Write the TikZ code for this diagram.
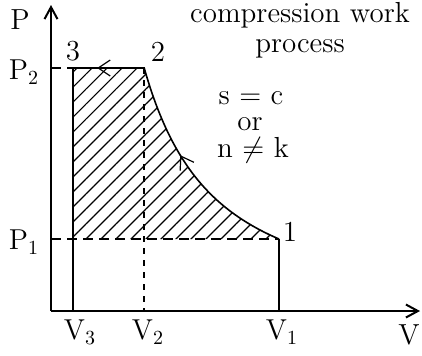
\documentclass[tikz,border=0pt]{standalone}
\usepackage{amsmath,amssymb}
\usetikzlibrary{arrows.meta,patterns.meta,decorations.markings}
\tikzset{
  axis/.style={line width=1pt,-{Straight Barb[length=6pt,width=6.5pt]}},
  line/.style={line width=0.8pt},
  dashln/.style={line width=0.8pt,dash pattern=on 5pt off 3pt},
  vdash/.style={line width=0.8pt,dash pattern=on 3pt off 3pt},
  hatch/.style={pattern={Lines[angle=45,distance=5.3pt,line width=0.6pt]}},
  lbl/.style={font=\fontsize{14.5}{15}\selectfont,inner sep=0pt},
  curv/.style={domain=144:279,samples=60},
  fwdarr/.style={postaction={decorate},decoration={markings,
    mark=at position #1 with {\arrow{Straight Barb[length=6pt,width=8pt,line width=0.6pt]}}}},
  revarr/.style={postaction={decorate},decoration={markings,
    mark=at position #1 with {\arrowreversed{Straight Barb[length=6pt,width=8pt,line width=0.6pt]}}}},
}

\begin{document}
\begin{tikzpicture}[x=0.5pt,y=-0.5pt]
  \useasboundingbox (0,0) rectangle (422,355);
  % key points
  \coordinate (O) at (51,311);
  \coordinate (ytop) at (51,5);
  \coordinate (xend) at (420,311);
  \coordinate (s3) at (73,68);
  \coordinate (s2) at (144,68);
  \coordinate (s1) at (279,239);
  \coordinate (c3) at (73,239);
  \coordinate (v3) at (73,311);
  \coordinate (v2) at (144,311);
  \coordinate (v1) at (279,311);
  \coordinate (pa2) at (51,68);
  \coordinate (pa1) at (51,239);
  % work area
  \fill[hatch] (s3) -- (s2) -- plot[curv] (\x,{311-72*(228/(\x-51))^1.36}) -- (s1) -- (c3) -- cycle;
  % axes
  \draw[axis] (O) -- (ytop);
  \draw[axis] (O) -- (xend);
  % process lines
  \draw[line,revarr=0.42] plot[curv] (\x,{311-72*(228/(\x-51))^1.36});
  \draw[line,fwdarr=0.66] (s2) -- (s3);
  \draw[line] (s3) -- (v3);
  \draw[line] (s1) -- (v1);
  \draw[dashln] (pa2) -- (s3);
  \draw[dashln] (pa1) -- (s1);
  \draw[vdash] (s2) -- (v2);
  % labels
  \node[lbl] (lP) at (20,20) {P};
  \node[lbl] (lP2) at (24,72) {$\mathrm{P}_2$};
  \node[lbl] (lP1) at (24,242) {$\mathrm{P}_1$};
  \node[lbl] (l3) at (73,51) {3};
  \node[lbl] (l2) at (158,52) {2};
  \node[lbl] (l1) at (290,232) {1};
  \node[lbl] (lV3) at (80,332) {$\mathrm{V}_3$};
  \node[lbl] (lV2) at (148,332) {$\mathrm{V}_2$};
  \node[lbl] (lV1) at (282,332) {$\mathrm{V}_1$};
  \node[lbl] (lV) at (409,335) {V};
  \node[lbl,align=center] (ltitle) at (300,30) {compression work\\process};
  \node[lbl,anchor=base] (lsc) at (251,104) {s $=$ c};
  \node[lbl,anchor=base] (lor) at (250,130) {or};
  \node[lbl,anchor=base] (lnk) at (253,157) {n $\neq$ k};
\end{tikzpicture}
\end{document}
